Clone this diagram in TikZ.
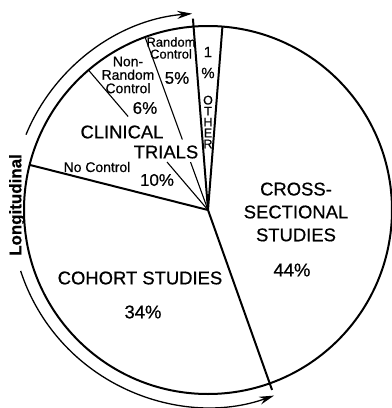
\documentclass[tikz,border=0pt]{standalone}
\usepackage{fontspec}
\setmainfont[FakeBold=0.6]{Liberation Sans}
\usepackage{tikz}
\usetikzlibrary{arrows.meta}

\begin{document}
\begin{tikzpicture}[x=1bp, y=1bp,
    rim/.style={line width=2bp},
    cut/.style={line width=1.1bp},
    span/.style={line width=1.3bp, >={Stealth[length=15bp,width=8bp]}},
    bigtxt/.style={font=\fontsize{18.5}{23}\selectfont, align=center, inner sep=0pt},
    midtxt/.style={font=\fontsize{17}{18}\selectfont, inner sep=0pt},
    smalltxt/.style={font=\fontsize{14}{13.5}\selectfont, align=center, inner sep=0pt},
    tinytxt/.style={font=\fontsize{13}{12}\selectfont, align=center, inner sep=0pt}]
  \useasboundingbox (-208,-198) rectangle (184,210);

  % centre and slice boundaries
  \coordinate (c) at (0,0);
  \coordinate (crossTop) at (85.5:184);
  \coordinate (otherEdge) at (94.5:192);
  \coordinate (randTop) at (110:184);
  \coordinate (randMid) at (110:75);
  \coordinate (randLow) at (110:51);
  \coordinate (nonrandTop) at (130.5:184);
  \coordinate (nonrandMid) at (130.5:123);
  \coordinate (nonrandLow) at (130.5:63);
  \coordinate (noctrlEdge) at (165.8:184);
  \coordinate (cohortEdge) at (-70.4:191);

  \draw[rim] (c) circle[radius=184];
  \draw[rim] (c) -- (crossTop);
  \draw[rim] (c) -- (noctrlEdge);
  \draw[rim] (c) -- (cohortEdge);
  \draw[rim] (c) -- (otherEdge);
  \draw[cut] (randTop) -- (randMid);
  \draw[cut] (randLow) -- (c);
  \draw[cut] (nonrandTop) -- (nonrandMid);
  \draw[cut] (nonrandLow) -- (c);

  % longitudinal span
  \draw[span, <-] (-70.4:197) arc[start angle=-70.4, end angle=-162, radius=197];
  \draw[span, ->] (157.5:197) arc[start angle=157.5, end angle=94.6, radius=197];
  \node[font=\bfseries\fontsize{17}{17}\selectfont, rotate=90, inner sep=0pt] (longi) at (-191,5) {Longitudinal};

  % labels
  \node[bigtxt] (cross) at (88,-2) {CROSS-\\SECTIONAL\\STUDIES};
  \node[bigtxt] (crossPct) at (84,-60) {44\%};
  \node[bigtxt] (cohort) at (-68,-68) {COHORT STUDIES};
  \node[bigtxt] (cohortPct) at (-65,-102) {34\%};
  \node[bigtxt] (clin) at (-86,78) {CLINICAL};
  \node[bigtxt] (trials) at (-42,58) {TRIALS};
  \node[smalltxt] (noctrl) at (-111,43) {No Control};
  \node[midtxt] (noctrlPct) at (-51,30) {10\%};
  \node[smalltxt] (nonrand) at (-80,135) {Non-\\Random\\Control};
  \node[midtxt] (nonrandPct) at (-63,102) {6\%};
  \node[tinytxt] (rand) at (-37,162) {Random\\Control};
  \node[midtxt] (randPct) at (-31,132) {5\%};
  \node[midtxt, font=\fontsize{15}{15}\selectfont] (otherNum) at (0,158) {1};
  \node[midtxt, font=\fontsize{15}{15}\selectfont] (otherPct) at (0,137) {\%};
  \node[tinytxt, font=\fontsize{12.5}{11}\selectfont] (other) at (0,88) {O\\T\\H\\E\\R};
\end{tikzpicture}
\end{document}
